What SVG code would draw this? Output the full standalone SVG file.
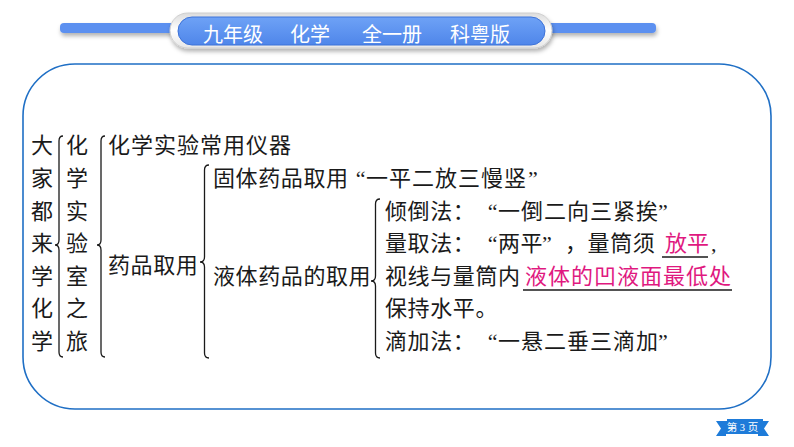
<svg xmlns="http://www.w3.org/2000/svg" width="794" height="447" viewBox="0 0 794 447">
<style>
.t{font-family:"Liberation Serif","Noto Sans CJK SC",serif;font-size:22px;fill:#1a1a1a;letter-spacing:0.6px}
.w{letter-spacing:1px}
.p{fill:#e0197f;letter-spacing:1px}
.p0{letter-spacing:0px}
.h{font-family:"Noto Sans CJK SC","Noto Sans",sans-serif;font-size:20px;fill:#ffffff}
.br{fill:none;stroke:#1a1a1a;stroke-width:1.3}
.ul{stroke:#1a1a1a;stroke-width:1.3}
</style>
<defs>
<linearGradient id="pillg" x1="0" y1="0" x2="0" y2="1">
<stop offset="0" stop-color="#6ea2f6"/>
<stop offset="1" stop-color="#4f86ea"/>
</linearGradient>
<linearGradient id="outg" x1="0" y1="0" x2="0" y2="1">
<stop offset="0" stop-color="#dcdcdc"/>
<stop offset="0.5" stop-color="#ffffff"/>
<stop offset="1" stop-color="#e6e6e6"/>
</linearGradient>
<filter id="sh" x="-10%" y="-50%" width="120%" height="250%">
<feDropShadow dx="1" dy="3" stdDeviation="2" flood-color="#000" flood-opacity="0.3"/>
</filter>
</defs>
<g id="header">
<rect x="60" y="23" width="120" height="10" rx="4" fill="#5b90f0" filter="url(#sh)"/>
<rect x="545" y="23" width="111" height="10" rx="4" fill="#5b90f0" filter="url(#sh)"/>
<rect x="170" y="13" width="382" height="35" rx="17.5" fill="url(#outg)" stroke="#cfcfcf" stroke-width="1" filter="url(#sh)"/>
<rect x="178" y="17" width="367" height="28" rx="14" fill="url(#pillg)" stroke="#3d72d8" stroke-width="1"/>
<text class="h" x="203" y="41.5">九年级</text>
<text class="h" x="290" y="41.5">化学</text>
<text class="h" x="362" y="41.5">全一册</text>
<text class="h" x="450" y="41.5">科粤版</text>
</g>
<rect id="frame" x="23" y="64" width="748" height="345" rx="52" fill="#ffffff" stroke="#1f6fc5" stroke-width="1.6"/>
<g id="col1">
<text class="t" x="31" y="153.4">大</text>
<text class="t" x="31" y="186">家</text>
<text class="t" x="31" y="218.6">都</text>
<text class="t" x="31" y="251.2">来</text>
<text class="t" x="31" y="283.8">学</text>
<text class="t" x="31" y="316.4">化</text>
<text class="t" x="31" y="349">学</text>
</g>
<g id="col2">
<text class="t" x="66" y="153.4">化</text>
<text class="t" x="66" y="186">学</text>
<text class="t" x="66" y="218.6">实</text>
<text class="t" x="66" y="251.2">验</text>
<text class="t" x="66" y="283.8">室</text>
<text class="t" x="66" y="316.4">之</text>
<text class="t" x="66" y="349">旅</text>
</g>
<g id="yiqi"><text class="t w" x="108" y="153.4">化学实验常用仪器</text></g>
<g id="yaopin"><text class="t" x="108" y="273.4">药品取用</text></g>
<g id="guti">
<text class="t" x="213" y="186">固体药品取用</text>
<text class="t" x="366" y="186" text-anchor="end">“</text>
<text class="t w" x="366" y="186">一平二放三慢竖</text>
<text class="t" x="528" y="186">”</text>
</g>
<g id="yeti"><text class="t" x="213" y="284.4">液体药品的取用</text></g>
<g id="qingdao">
<text class="t" x="385" y="218.6">倾倒法：</text>
<text class="t" x="498" y="218.6" text-anchor="end">“</text>
<text class="t w" x="498" y="218.6">一倒二向三紧挨</text>
<text class="t" x="658" y="218.6">”</text>
</g>
<g id="liangqu">
<text class="t" x="385" y="251.2">量取法：</text>
<text class="t" x="498" y="251.2" text-anchor="end">“</text>
<text class="t" x="498" y="251.2">两平</text>
<text class="t" x="542" y="251.2">”</text>
<text class="t" x="565" y="251.2">，量筒须</text>
<text class="t p p0" x="665" y="251.2">放平</text>
<text class="t" x="711" y="251.2">,</text>
<line class="ul" x1="662" y1="257" x2="708" y2="257"/>
</g>
<g id="shixian">
<text class="t" x="385" y="283.8">视线与量筒内</text>
<text class="t p" x="525" y="283.8">液体的凹液面最低处</text>
<line class="ul" x1="523" y1="290" x2="732" y2="290"/>
</g>
<g id="baochi"><text class="t" x="385" y="316.4">保持水平。</text></g>
<g id="dijia">
<text class="t" x="385" y="349">滴加法：</text>
<text class="t" x="498" y="349" text-anchor="end">“</text>
<text class="t w" x="498" y="349">一悬二垂三滴加</text>
<text class="t" x="658" y="349">”</text>
</g>
<g id="connectors">
<path class="br" d="M63 136 Q59 136 59 141 L59 240 Q59 245 55 245 Q59 245 59 250 L59 352 Q59 357 63 357"/>
<path class="br" d="M105 136 Q101 136 101 141 L101 240 Q101 245 97 245 Q101 245 101 250 L101 352 Q101 357 105 357"/>
<path class="br" d="M209 165 Q204.5 165 204.5 170 L204.5 257 Q204.5 262 200 262 Q204.5 262 204.5 267 L204.5 353 Q204.5 358 209 358"/>
<path class="br" d="M380 199 Q375.5 199 375.5 204 L375.5 276 Q375.5 281 371 281 Q375.5 281 375.5 286 L375.5 353 Q375.5 358 380 358"/>
</g>
<g id="page">
<path d="M716 421 L727 421 L727 419 L763 419 L763 421 L769 421 L764 428.5 L769 436 L758 436 L758 434 L726 434 L726 436 L716 436 L721 428.5 Z" fill="#1e7bd9"/>
<text x="742.5" y="430.5" text-anchor="middle" font-family="Liberation Serif,Noto Sans CJK SC,serif" font-size="10.5" fill="#ffffff">第 3 页</text>
</g>
</svg>
